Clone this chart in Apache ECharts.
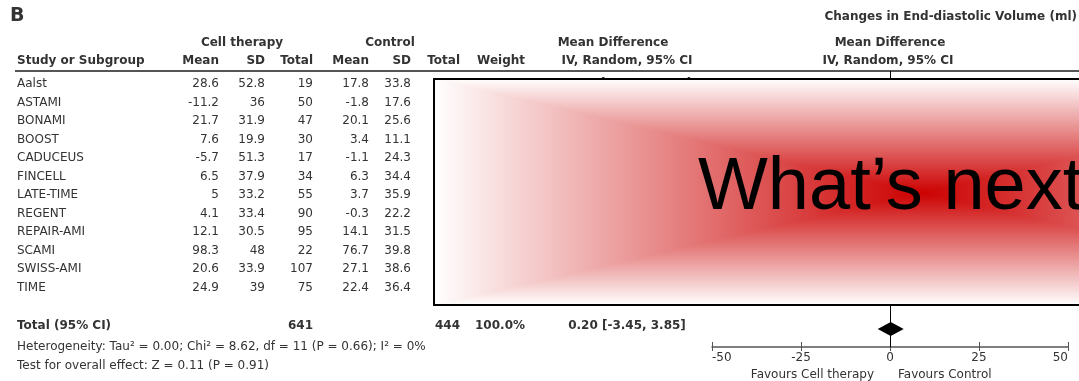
<!DOCTYPE html>
<html><head><meta charset="utf-8">
<script src="https://cdn.jsdelivr.net/npm/echarts@6/dist/echarts.min.js"></script>
<style>html,body{margin:0;padding:0;background:#fff}#c{width:1079px;height:381px}</style>
</head><body><div id="c"></div>
<script>
// ---- data ----
const studies   = ['Aalst','ASTAMI','BONAMI','BOOST','CADUCEUS','FINCELL','LATE-TIME','REGENT','REPAIR-AMI','SCAMI','SWISS-AMI','TIME'];
const cellMean  = [28.6,-11.2,21.7,7.6,-5.7,6.5,5,4.1,12.1,98.3,20.6,24.9];
const cellSD    = [52.8,36,31.9,19.9,51.3,37.9,33.2,33.4,30.5,48,33.9,39];
const cellN     = [19,50,47,30,17,34,55,90,95,22,107,75];
const ctrlMean  = [17.8,-1.8,20.1,3.4,-1.1,6.3,3.7,-0.3,14.1,76.7,27.1,22.4];
const ctrlSD    = [33.8,17.6,25.6,11.1,24.3,34.4,35.9,22.2,31.5,39.8,38.6,36.4];
const ctrlN     = [14];            // only first row readable (rest hidden by overlay)
const weights   = ['1.5%'];
const mdText    = ['10.80 [-18.53, 40.13]'];
const totalRow  = {label:'Total (95% CI)', cellN:641, ctrlN:444, weight:'100.0%', text:'0.20 [-3.45, 3.85]'};
const totalMD   = [0.20, -3.45, 3.85];   // estimate, lower, upper
const xTicks    = [-50,-25,0,25,50];
const hetText   = 'Heterogeneity: Tau² = 0.00; Chi² = 8.62, df = 11 (P = 0.66); I² = 0%';
const testText  = 'Test for overall effect: Z = 0.11 (P = 0.91)';

// ---- layout ----
const FONT = '"DejaVu Sans", Verdana, sans-serif';
const C = '#333';
const rowY0 = 84, rowStep = 18.5;
const totalIdx = 13.3;
const col = {name:17, cm:219, csd:265, cn:313, km:369, ksd:411, kn:460, w:525, md:627};

const g = [];
function txt(x, y, s, opt) {
  opt = opt || {};
  g.push({type:'text', z: opt.z || 5, style:{x:x, y:y, text:String(s), font:(opt.bold?'bold ':'') + (opt.size||12) + 'px ' + (opt.family||FONT),
    fill: opt.fill || C, textAlign: opt.align || 'left', textVerticalAlign: opt.va || 'middle'}});
}
txt(10, 16, 'B', {bold:true, size:19});
txt(1077, 17, 'Changes in End-diastolic Volume (ml)', {bold:true, align:'right'});
txt(242, 43, 'Cell therapy', {bold:true, align:'center'});
txt(390, 43, 'Control', {bold:true, align:'center'});
txt(613, 43, 'Mean Difference', {bold:true, align:'center'});
txt(890, 43, 'Mean Difference', {bold:true, align:'center'});
txt(17, 61, 'Study or Subgroup', {bold:true});
[['Mean',col.cm],['SD',col.csd],['Total',col.cn],['Mean',col.km],['SD',col.ksd],['Total',col.kn],['Weight',col.w]].forEach(h=>txt(h[1],61,h[0],{bold:true,align:'right'}));
txt(627, 61, 'IV, Random, 95% CI', {bold:true, align:'center'});
txt(888, 61, 'IV, Random, 95% CI', {bold:true, align:'center'});
g.push({type:'line', z:4, shape:{x1:15,y1:71,x2:1079,y2:71}, style:{stroke:'#555', lineWidth:2}});

studies.forEach((s,i)=>{
  const y = rowY0 + i*rowStep;
  txt(col.name, y, s);
  txt(col.cm, y, cellMean[i], {align:'right'});
  txt(col.csd, y, cellSD[i], {align:'right'});
  txt(col.cn, y, cellN[i], {align:'right'});
  txt(col.km, y, ctrlMean[i], {align:'right'});
  txt(col.ksd, y, ctrlSD[i], {align:'right'});
  if (ctrlN[i] !== undefined) txt(col.kn, y, ctrlN[i], {align:'right'});
  if (weights[i] !== undefined) txt(col.w, y, weights[i], {align:'right'});
  if (mdText[i] !== undefined) txt(col.md, y, mdText[i], {align:'center'});
});
const yT = 326;
txt(col.name, yT, totalRow.label, {bold:true});
txt(col.cn, yT, totalRow.cellN, {bold:true, align:'right'});
txt(col.kn, yT, totalRow.ctrlN, {bold:true, align:'right'});
txt(col.w, yT, totalRow.weight, {bold:true, align:'right'});
txt(col.md, yT, totalRow.text, {bold:true, align:'center'});
txt(17, 347, hetText);
txt(17, 366, testText);
txt(874, 375, 'Favours Cell therapy', {align:'right'});
txt(898, 375, 'Favours Control');

// ---- overlay box with rectangular gradient ----
const L = 434, T = 79, B = 305, cx = 921, cy = 193, R = 2*cx - L;
const W0 = '#ffffff', RED = '#cc0000';
function lin(x,y,x2,y2,c0,c1){return {type:'linear',x:x,y:y,x2:x2,y2:y2,colorStops:[{offset:0,color:c0},{offset:1,color:c1}]};}
function tri(pts, grad, z){ g.push({type:'polygon', z:z, shape:{points:pts}, style:{fill:grad, stroke:grad, lineWidth:1}}); }
tri([[L,T],[cx,cy],[L,B]], lin(0,0,1,0,W0,RED), 50);
tri([[R,T],[cx,cy],[R,B]], lin(0,0,1,0,RED,W0), 50);
tri([[L,T],[R,T],[cx,cy]], lin(0,0,0,1,W0,RED), 51);
tri([[L,B],[R,B],[cx,cy]], lin(0,0,0,1,RED,W0), 51);
g.push({type:'rect', z:52, shape:{x:L,y:T,width:R-L,height:B-T}, style:{fill:'none', stroke:'#000', lineWidth:2}});
txt(698, 226, 'What’s next', {size:74, family:'"Liberation Sans", Arial, sans-serif', fill:'#000', va:'bottom', z:53});

// ---- forest plot ----
const yMin = -(rowY0 - 71)/rowStep, yMax = (347 - rowY0)/rowStep;
const chart = echarts.init(document.getElementById('c'), null, {renderer:'canvas'});
chart.setOption({
  animation:false,
  grid:{left:712, right:11, top:71, bottom:34},
  xAxis:[{type:'value', min:xTicks[0], max:xTicks[xTicks.length-1], interval:25,
    axisLine:{onZero:false, lineStyle:{color:'#555', width:1.5}}, axisTick:{inside:true, length:5, lineStyle:{color:'#555'}},
    axisLabel:{color:C, fontFamily:FONT, fontSize:12, margin:5, alignMinLabel:'left', alignMaxLabel:'right'},
    splitLine:{show:false}},
   {type:'value', position:'bottom', min:xTicks[0], max:xTicks[xTicks.length-1], interval:25,
    axisLine:{show:false, onZero:false}, axisTick:{length:4, lineStyle:{color:'#555'}}, axisLabel:{show:false}, splitLine:{show:false}}],
  yAxis:{type:'value', inverse:true, min:yMin, max:yMax, show:false},
  graphic:{elements:g},
  series:[{
    type:'custom',
    data:[[totalMD[0], totalMD[1], totalMD[2], (329 - rowY0)/rowStep]],
    renderItem:function(params, api){
      const y = api.value(3);
      const pm = api.coord([api.value(0), y]);
      const pl = api.coord([api.value(1), y]);
      const pu = api.coord([api.value(2), y]);
      return {type:'polygon', shape:{points:[[pl[0],pm[1]],[pm[0],pm[1]-7],[pu[0],pm[1]],[pm[0],pm[1]+7]]}, style:{fill:'#000'}};
    },
    markLine:{silent:true, symbol:'none', label:{show:false}, lineStyle:{color:'#000', width:1, type:'solid'}, data:[{xAxis:0}]}
  }]
});
</script></body></html>
